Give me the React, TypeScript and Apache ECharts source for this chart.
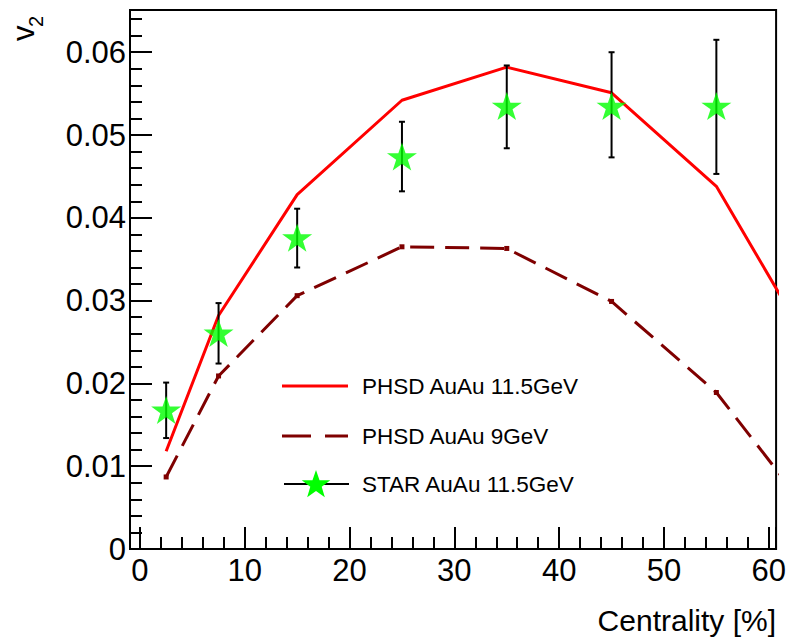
import React, { useEffect, useRef } from "react";
import * as echarts from "echarts";

// Centrality bin centres [%] (last point lies beyond the visible frame, line is clipped)
const centrality = [2.5, 7.5, 15, 25, 35, 45, 55, 65];
const phsd115 = [0.0118, 0.0282, 0.0428, 0.0542, 0.0582, 0.0551, 0.0438, 0.0222];
const phsd9 = [0.0087, 0.0209, 0.0306, 0.0365, 0.0363, 0.0299, 0.0189, 0.0026];

const starX = [2.5, 7.5, 15, 25, 35, 45, 55];
const starV2 = [0.0168, 0.0261, 0.0376, 0.0474, 0.0535, 0.0535, 0.0535];
const starErrLow = [0.0134, 0.0224, 0.034, 0.0432, 0.0484, 0.0473, 0.0453];
const starErrHigh = [0.0201, 0.0297, 0.0411, 0.0516, 0.0584, 0.06, 0.0615];

const legendNames = ["PHSD AuAu 11.5GeV", "PHSD AuAu 9GeV", "STAR AuAu 11.5GeV"];

const FONT = "'Liberation Sans', Arial, Helvetica, sans-serif";
const RED = "#ff0000";
const DARKRED = "#7f0000";
const GREEN = "#00ff00";
const STAR_PATH =
  "path://M50,0 L61.8,35.1 L98.9,35.1 L68.9,56.9 L80.3,92.1 L50,70.4 L19.7,92.1 L31.1,56.9 L1.1,35.1 L38.2,35.1 Z";

function starPoints(cx: number, cy: number, R: number, r: number): number[][] {
  const pts: number[][] = [];
  for (let i = 0; i < 10; i++) {
    const a = -Math.PI / 2 + (i * Math.PI) / 5;
    const rad = i % 2 === 0 ? R : r;
    pts.push([cx + rad * Math.cos(a), cy + rad * Math.sin(a)]);
  }
  return pts;
}

export default function App() {
  const ref = useRef<HTMLDivElement>(null);
  useEffect(() => {
    if (!ref.current) return;
    const chart = echarts.init(ref.current, null, { renderer: "svg" });
    const legendX0 = 282;
    const legendX1 = 348;
    const legendTextX = 362;
    const legendY = [386, 436, 484];
    chart.setOption({
      animation: false,
      backgroundColor: "#ffffff",
      grid: {
        left: 130,
        right: 11,
        top: 10,
        bottom: 88,
        show: true,
        borderColor: "#000",
        borderWidth: 2,
        backgroundColor: "transparent",
      },
      xAxis: {
        type: "value",
        min: -0.95,
        max: 60.7,
        splitNumber: 6,
        axisLine: { show: true, onZero: false, lineStyle: { color: "#000", width: 2 } },
        axisTick: { show: true, inside: true, length: 22, lineStyle: { color: "#000", width: 2 } },
        minorTick: { show: true, splitNumber: 5, length: 12, lineStyle: { color: "#000", width: 2 } },
        splitLine: { show: false },
        axisLabel: {
          color: "#000",
          fontSize: 31,
          fontFamily: FONT,
          margin: 6,
          formatter: (v: number) => (Math.abs(v / 10 - Math.round(v / 10)) < 1e-6 ? String(Math.round(v)) : ""),
        },
      },
      yAxis: {
        type: "value",
        min: 0,
        max: 0.0651,
        interval: 0.01,
        axisLine: { show: true, onZero: false, lineStyle: { color: "#000", width: 2 } },
        axisTick: { show: true, inside: true, length: 22, lineStyle: { color: "#000", width: 2 } },
        minorTick: { show: true, splitNumber: 5, length: 12, lineStyle: { color: "#000", width: 2 } },
        splitLine: { show: false },
        axisLabel: {
          color: "#000",
          fontSize: 31,
          fontFamily: FONT,
          margin: 4,
          formatter: (v: number) => {
            if (Math.abs(v * 100 - Math.round(v * 100)) > 1e-6) return "";
            return v === 0 ? "0" : v.toFixed(2);
          },
        },
      },
      series: [
        {
          name: legendNames[0],
          type: "line",
          data: centrality.map((x, i) => [x, phsd115[i]]),
          showSymbol: false,
          symbol: "none",
          lineStyle: { color: RED, width: 3 },
          clip: true,
          z: 3,
        },
        {
          name: legendNames[1],
          type: "line",
          data: centrality.map((x, i) => [x, phsd9[i]]),
          symbol: "rect",
          symbolSize: 5,
          itemStyle: { color: DARKRED },
          lineStyle: { color: DARKRED, width: 3, type: [24, 11] },
          clip: true,
          z: 3,
        },
        {
          name: "STAR errors",
          type: "custom",
          data: starX.map((x, i) => [x, starErrLow[i], starErrHigh[i]]),
          encode: { x: 0, y: [1, 2] },
          renderItem: (params: any, api: any) => {
            const x = api.value(0);
            const lo = api.coord([x, api.value(1)]);
            const hi = api.coord([x, api.value(2)]);
            const cw = 3;
            const st = { stroke: "#000", lineWidth: 2 };
            return {
              type: "group",
              children: [
                { type: "line", shape: { x1: lo[0], y1: lo[1], x2: hi[0], y2: hi[1] }, style: st },
                { type: "line", shape: { x1: lo[0] - cw, y1: lo[1], x2: lo[0] + cw, y2: lo[1] }, style: st },
                { type: "line", shape: { x1: hi[0] - cw, y1: hi[1], x2: hi[0] + cw, y2: hi[1] }, style: st },
              ],
            };
          },
          z: 4,
        },
        {
          name: legendNames[2],
          type: "scatter",
          data: starX.map((x, i) => [x, starV2[i]]),
          symbol: STAR_PATH,
          symbolSize: [30, 28],
          itemStyle: { color: GREEN },
          z: 5,
        },
      ],
      graphic: [
        // y-axis title v_2 (rotated)
        {
          type: "text",
          x: 23,
          y: 41,
          rotation: Math.PI / 2,
          style: { text: "v", fontSize: 31, fontFamily: FONT, fill: "#000", align: "left", verticalAlign: "middle" },
        },
        {
          type: "text",
          x: 36,
          y: 27,
          rotation: Math.PI / 2,
          style: { text: "2", fontSize: 20, fontFamily: FONT, fill: "#000", align: "left", verticalAlign: "middle" },
        },
        // x-axis title
        {
          type: "text",
          x: 776,
          y: 620,
          style: {
            text: "Centrality [%]",
            fontSize: 30,
            fontFamily: FONT,
            fill: "#000",
            align: "right",
            verticalAlign: "middle",
          },
        },
        // legend
        {
          type: "line",
          shape: { x1: legendX0, y1: legendY[0], x2: legendX1, y2: legendY[0] },
          style: { stroke: RED, lineWidth: 3 },
        },
        {
          type: "line",
          shape: { x1: legendX0, y1: legendY[1], x2: legendX1, y2: legendY[1] },
          style: { stroke: DARKRED, lineWidth: 3, lineDash: [29, 14] },
        },
        {
          type: "line",
          shape: { x1: legendX0 + 2, y1: legendY[2], x2: legendX1 + 1, y2: legendY[2] },
          style: { stroke: "#000", lineWidth: 2 },
        },
        {
          type: "polygon",
          shape: { points: starPoints(316, legendY[2] + 1, 15, 6) },
          style: { fill: GREEN },
        },
        ...legendNames.map((name, i) => ({
          type: "text",
          x: legendTextX,
          y: legendY[i],
          style: { text: name, fontSize: 22.5, fontFamily: FONT, fill: "#000", align: "left", verticalAlign: "middle" },
        })),
      ],
    });
    return () => chart.dispose();
  }, []);
  return (
    <div
      ref={ref}
      style={{ position: "fixed", left: 0, top: 0, width: 789, height: 637, background: "#fff" }}
    />
  );
}
